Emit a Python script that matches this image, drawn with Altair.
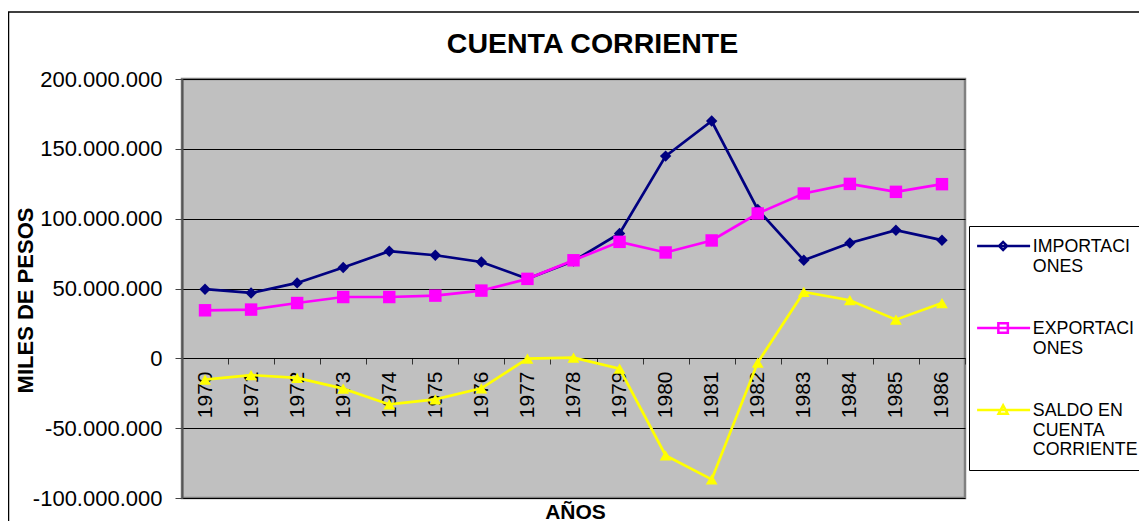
import altair as alt
import pandas as pd

years = [str(y) for y in range(1970, 1987)]
importaciones = [49.5, 46.8, 54.0, 65.0, 76.7, 73.8, 69.0, 57.0, 69.7, 89.4, 144.8, 169.9, 106.6, 70.2, 82.6, 91.7, 84.6]
exportaciones = [34.4, 34.9, 39.6, 43.9, 43.9, 44.9, 48.5, 56.9, 70.2, 83.4, 75.8, 84.4, 103.7, 118.0, 124.9, 119.2, 124.7]
saldo = [-15.3, -12.0, -14.0, -21.7, -33.0, -29.4, -21.5, -0.2, 0.5, -7.4, -69.5, -86.7, -3.0, 47.5, 41.6, 27.7, 39.6]

series = ["IMPORTACIONES", "EXPORTACIONES", "SALDO EN CUENTA CORRIENTE"]
legend_lines = [["IMPORTACI", "ONES"], ["EXPORTACI", "ONES"], ["SALDO EN", "CUENTA", "CORRIENTE"]]
colors = ["#000080", "#FF00FF", "#FFFF00"]
markers = ["diamond", "square", "triangle-up"]
marker_sizes = [130, 155, 140]
y_ticks = [-100e6, -50e6, 0, 50e6, 100e6, 150e6, 200e6]

rows = []
for name, vals in zip(series, [importaciones, exportaciones, saldo]):
    for yr, v in zip(years, vals):
        rows.append({"anio": yr, "serie": name, "valor": v * 1e6})
df = pd.DataFrame(rows)

FONT = "Liberation Sans"

# legend symbols: line + marker (unit = 5px)
dy = 1.6
mc = 4.44
legend_paths = [
    f"M-0.76,{dy}H9.84M{mc-0.8},{dy}L{mc},{dy-0.8}L{mc+0.8},{dy}L{mc},{dy+0.8}Z",
    f"M-0.76,{dy}H9.84M{mc-0.95},{dy-0.95}H{mc+0.95}V{dy+0.95}H{mc-0.95}Z",
    f"M-0.76,{dy}H9.84M{mc},{dy-0.9}L{mc+0.9},{dy+0.75}H{mc-0.9}Z",
]

label_expr = ""
for name, lines in zip(series[:-1], legend_lines[:-1]):
    label_expr += f"datum.label === '{name}' ? {lines!r} : "
label_expr += f"{legend_lines[-1]!r}"

x_enc = alt.X(
    "anio:O",
    scale=alt.Scale(type="band", paddingInner=0, paddingOuter=0),
    axis=alt.Axis(
        title="AÑOS", titleFont=FONT, titleFontSize=21, titleFontWeight="bold",
        titleColor="black", titleBaseline="alphabetic", titleX=393, titleY=160,
        labelAngle=270, labelFont=FONT, labelFontSize=21, labelColor="black",
        labelPadding=7, tickBand="extent", tickSize=6, tickColor="#333333",
        domainColor="#000000", domainWidth=1, offset=-140, grid=False,
    ),
)
y_enc = alt.Y(
    "valor:Q",
    scale=alt.Scale(domain=[-100e6, 200e6], nice=False),
    axis=alt.Axis(
        title="MILES DE PESOS", titleFont=FONT, titleFontSize=22, titleFontWeight="bold",
        titleColor="black", titleAngle=270, titleBaseline="alphabetic", titleX=-150, titleY=221,
        values=y_ticks, labelFont=FONT, labelFontSize=22, labelColor="black",
        labelPadding=13, tickSize=7, tickColor="#444444", domainColor="#555555", domainWidth=2,
        grid=True, gridColor="#000000", gridWidth=1, gridOpacity=1,
        labelExpr="replace(replace(format(datum.value, ','), regexp(',', 'g'), '.'), '−', '-')",
    ),
)
color_scale = alt.Scale(domain=series, range=colors)

base = alt.Chart(df)

leg = dict(
    title=" ", titleOrient="bottom", titleFontSize=8, titlePadding=0,
    orient="none", legendX=787, legendY=147, padding=3,
    strokeColor="black", fillColor="white", symbolSize=100, symbolStrokeWidth=2.5,
    labelFont=FONT, labelFontSize=17.8, labelColor="black", labelBaseline="top",
    labelOffset=43, rowPadding=35, labelExpr=label_expr, labelLimit=300,
)
legend_layer = base.mark_point(filled=True, opacity=0).encode(
    x=x_enc, y=y_enc,
    fill=alt.Fill("serie:N", scale=alt.Scale(domain=series, range=colors), legend=alt.Legend(**leg)),
    stroke=alt.Stroke("serie:N", scale=alt.Scale(domain=series, range=colors), legend=alt.Legend(**leg)),
    shape=alt.Shape("serie:N", scale=alt.Scale(domain=series, range=legend_paths), legend=alt.Legend(**leg)),
)

lines = base.mark_line(strokeWidth=2.7).encode(
    x=x_enc, y=y_enc,
    color=alt.Color("serie:N", scale=color_scale, legend=None),
    detail="serie:N",
)
point_layers = []
for name, shp, sz in zip(series, markers, marker_sizes):
    point_layers.append(
        base.transform_filter(alt.datum.serie == name)
        .mark_point(filled=True, shape=shp, size=sz, opacity=1)
        .encode(x=x_enc, y=y_enc, color=alt.Color("serie:N", scale=color_scale, legend=None))
    )

frame = alt.Chart(alt.Data(values=[{"k": 1}])).mark_rect(
    fill="transparent", stroke="black", strokeWidth=1.5
).encode(x=alt.value(-173.5), x2=alt.value(990), y=alt.value(-67), y2=alt.value(470))

chart = alt.layer(legend_layer, frame, lines, *point_layers).properties(
    width=783, height=419,
    autosize=alt.AutoSizeParams(type="none"),
    padding={"left": 174, "top": 71, "right": 174, "bottom": 23},
    title=alt.TitleParams(
        "CUENTA CORRIENTE", font=FONT, fontSize=28.5, fontWeight="bold", color="black",
        anchor="middle", frame="group", dx=19, offset=-47,
    ),
).configure(background="white").configure_view(
    fill="#C0C0C0", stroke="#808080", strokeWidth=2.5
)

chart.save("out.html", embed_options={"renderer": "svg", "actions": False})
